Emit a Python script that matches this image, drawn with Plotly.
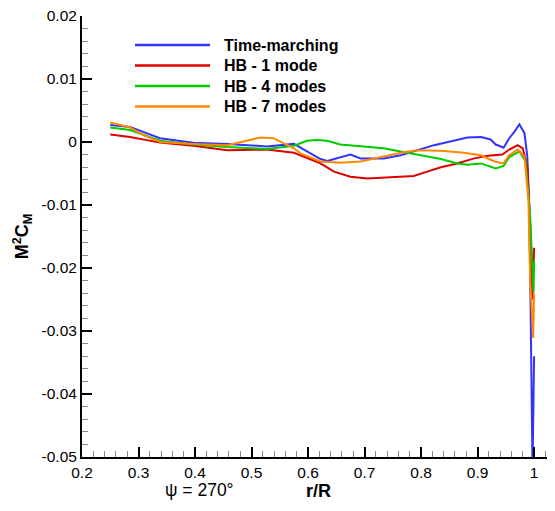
import plotly.graph_objects as go

# ---------------- data ----------------
series_names = ["Time-marching", "HB - 1 mode", "HB - 4 modes", "HB - 7 modes"]
series_colors = ["#3333ff", "#dd0000", "#00cc00", "#ff8800"]

tm_x = [0.25, 0.285, 0.338, 0.397, 0.457, 0.527, 0.575, 0.598, 0.622, 0.634, 0.657, 0.675,
        0.693, 0.734, 0.764, 0.823, 0.882, 0.906, 0.923, 0.932, 0.938, 0.946, 0.956, 0.965,
        0.974, 0.983, 0.988, 0.991, 0.993, 0.995, 0.9972, 1.0]
tm_y = [0.0027, 0.0024, 0.0006, -0.0001, -0.0003, -0.0007, -0.0003, -0.0015, -0.0027, -0.003,
        -0.0025, -0.002, -0.0026, -0.0026, -0.0021, -0.0005, 0.0007, 0.0008, 0.0004, -0.0004,
        -0.0006, -0.0009, 0.0006, 0.0016, 0.0028, 0.0014, -0.0023, -0.0092, -0.02, -0.035,
        -0.052, -0.034]

hb1_x = [0.25, 0.285, 0.338, 0.397, 0.457, 0.527, 0.575, 0.622, 0.646, 0.675, 0.705, 0.734,
         0.764, 0.787, 0.811, 0.835, 0.864, 0.894, 0.918, 0.944, 0.956, 0.971, 0.980, 0.988,
         0.994, 0.997, 1.0]
hb1_y = [0.0012, 0.0008, -0.0001, -0.0006, -0.0013, -0.0012, -0.0017, -0.0034, -0.0047,
         -0.0055, -0.0058, -0.0057, -0.0055, -0.0054, -0.0047, -0.004, -0.0034, -0.0026,
         -0.0022, -0.002, -0.0012, -0.0005, -0.001, -0.0039, -0.0145, -0.025, -0.0168]

hb4_x = [0.25, 0.285, 0.338, 0.397, 0.457, 0.527, 0.575, 0.598, 0.616, 0.634, 0.657, 0.705,
         0.734, 0.764, 0.793, 0.835, 0.864, 0.882, 0.906, 0.932, 0.946, 0.956, 0.974, 0.985,
         0.993, 0.997, 0.999, 1.0]
hb4_y = [0.0023, 0.0019, 0.0002, -0.0004, -0.0008, -0.0011, -0.0006, 0.0002, 0.0003, 0.0002,
         -0.0004, -0.0007, -0.001, -0.0015, -0.002, -0.0027, -0.0034, -0.0036, -0.0034,
         -0.0042, -0.0038, -0.0024, -0.0015, -0.0031, -0.0119, -0.022, -0.0238, -0.019]

hb7_x = [0.25, 0.285, 0.309, 0.338, 0.397, 0.457, 0.516, 0.539, 0.575, 0.5865, 0.622, 0.657,
         0.693, 0.734, 0.764, 0.793, 0.835, 0.876, 0.906, 0.930, 0.946, 0.956, 0.971, 0.983,
         0.990, 0.993, 0.9985, 1.0]
hb7_y = [0.0031, 0.0023, 0.0011, 0.0, -0.0003, -0.0005, 0.0007, 0.0006, -0.001, -0.0018,
         -0.0031, -0.0033, -0.0031, -0.0023, -0.0017, -0.0013, -0.0014, -0.0017, -0.0021,
         -0.0031, -0.0034, -0.0021, -0.0012, -0.0023, -0.0092, -0.022, -0.0311, -0.024]

x_tickvals = [0.2, 0.3, 0.4, 0.5, 0.6, 0.7, 0.8, 0.9, 1.0]
x_ticktext = ["0.2", "0.3", "0.4", "0.5", "0.6", "0.7", "0.8", "0.9", "1"]
y_tickvals = [0.02, 0.01, 0.0, -0.01, -0.02, -0.03, -0.04, -0.05]
y_ticktext = ["0.02", "0.01", "0", "-0.01", "-0.02", "-0.03", "-0.04", "-0.05"]

# ---------------- figure ----------------
fig = go.Figure()
for name, color, xs, ys in zip(series_names, series_colors,
                               [tm_x, hb1_x, hb4_x, hb7_x],
                               [tm_y, hb1_y, hb4_y, hb7_y]):
    fig.add_trace(go.Scatter(x=xs, y=ys, mode="lines", name=name, showlegend=False,
                             line=dict(color=color, width=2)))

font_family = "Liberation Sans, Arial, sans-serif"

# plot area in page pixels: left 82, right 555, top 16, bottom 457 (page body adds 8px offset)
PL, PW, PB, PH = 82, 473, 457, 441


def px_x(p):
    return (p - PL) / PW


def px_y(p):
    return (PB - p) / PH


fig.update_layout(
    width=547, height=503,
    margin=dict(l=74, r=0, t=8, b=54, autoexpand=False),
    paper_bgcolor="white", plot_bgcolor="white",
    font=dict(family=font_family, size=15.5, color="black"),
    showlegend=False,
    xaxis=dict(range=[0.2, 1.037], showgrid=False, zeroline=False, automargin=False,
               showline=True, linecolor="black", linewidth=2,
               tickmode="array", tickvals=x_tickvals, ticktext=x_ticktext,
               ticks="inside", ticklen=10, tickwidth=2, tickcolor="black",
               ticklabeloverflow="allow",
               minor=dict(dtick=0.02, tick0=0.2, ticks="inside", ticklen=6,
                          tickwidth=1, tickcolor="#888888"),
               tickfont=dict(size=15.5),
               title=dict(text="<b>r/R</b>", font=dict(size=18), standoff=2)),
    yaxis=dict(range=[-0.05, 0.02], showgrid=False, zeroline=False, automargin=False,
               showline=True, linecolor="black", linewidth=2,
               tickmode="array", tickvals=y_tickvals, ticktext=y_ticktext,
               ticks="inside", ticklen=10, tickwidth=2, tickcolor="black",
               ticklabeloverflow="allow",
               minor=dict(dtick=0.002, tick0=0, ticks="inside", ticklen=6,
                          tickwidth=1, tickcolor="#888888"),
               tickfont=dict(size=15.5),
               title=dict(text="<b>M<sup>2</sup>C<sub>M</sub></b>", font=dict(size=18),
                          standoff=8)),
)

# legend (drawn as key lines + labels inside the plot)
legend_rows = [45, 65.5, 86, 106.5]
for name, color, row in zip(series_names, series_colors, legend_rows):
    fig.add_shape(type="line", xref="paper", yref="paper",
                  x0=px_x(135), x1=px_x(210), y0=px_y(row), y1=px_y(row),
                  line=dict(color=color, width=2.5))
    fig.add_annotation(text="<b>%s</b>" % name, xref="paper", yref="paper",
                       x=px_x(222), y=px_y(row), xanchor="left", yanchor="middle",
                       showarrow=False,
                       font=dict(size=16, family=font_family, color="black"))

fig.add_annotation(text="ψ = 270°", xref="paper", yref="paper",
                   x=px_x(199), y=px_y(490),
                   xanchor="center", yanchor="middle", showarrow=False,
                   font=dict(size=17.5, family=font_family, color="black"))

fig.write_html("out.html")
